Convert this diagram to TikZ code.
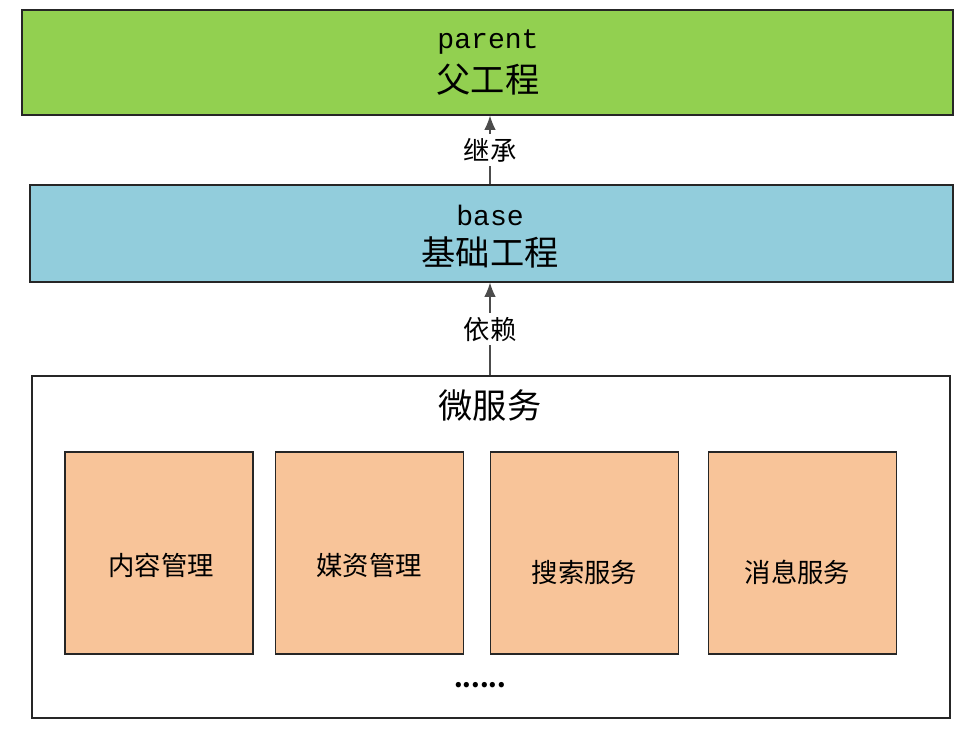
\documentclass[tikz,border=0pt]{standalone}
\usepackage{fontspec}
\setmainfont{Noto Sans CJK SC}
\setmonofont{Liberation Mono}
\newfontfamily\cjk{Noto Sans CJK SC}
\usetikzlibrary{shapes,arrows.meta,positioning,calc}

\definecolor{parentgreen}{HTML}{92D050}
\definecolor{baseblue}{HTML}{92CDDC}
\definecolor{svcorange}{HTML}{F8C499}

\tikzset{
    layer/.style={draw=black!85, line width=0.8pt, inner sep=0pt},
    svc/.style={draw=black!85, line width=0.7pt, fill=svcorange, inner sep=0pt,
        minimum width=3.76cm, minimum height=4.04cm},
    svctext/.style={font=\cjk\fontsize{15}{18}\selectfont},
    layertitle/.style={font=\ttfamily\fontsize{16}{18}\selectfont},
    layername/.style={font=\cjk\fontsize{19.5}{22}\selectfont},
    dep/.style={-{Latex[length=8pt,width=6.5pt]}, draw=black!70, line width=0.6pt},
    deplabel/.style={fill=white, inner sep=2pt, font=\cjk\fontsize{15}{17}\selectfont}
}

\begin{document}
\begin{tikzpicture}[x=0.02cm,y=-0.02cm]
        \useasboundingbox (0,0) rectangle (962,730);
        % three layers
        \node[layer, fill=parentgreen, minimum width=18.62cm, minimum height=2.1cm] (parent) at (487.5,62.5) {};
        \node[layertitle] (parenttitle) at (488,42) {parent};
        \node[layername] (parentname) at (488,80) {父工程};
        \node[layer, fill=baseblue, minimum width=18.46cm, minimum height=1.94cm] (base) at (491.5,233.5) {};
        \node[layertitle] (basetitle) at (490,215) {base};
        \node[layername] (basename) at (490,252) {基础工程};
        \node[layer, fill=white, line width=0.7pt, minimum width=18.36cm, minimum height=6.84cm] (ms) at (491,547) {};
        \node[layername] (mstitle) at (490,405) {微服务};
        % the services
        \node[svc] (cms) at (159,553) {};
        \node[svc, right=0.42cm of cms] (media) {};
        \node[svc, right=0.52cm of media] (search) {};
        \node[svc, right=0.58cm of search] (msg) {};
        \node[svctext] (cmstext) at ($(cms)+(2,12)$) {内容管理};
        \node[svctext] (mediatext) at ($(media)+(0,12)$) {媒资管理};
        \node[svctext] (searchtext) at ($(search)+(0,19)$) {搜索服务};
        \node[svctext] (msgtext) at ($(msg)+(-5,19)$) {消息服务};
        \node[font=\fontsize{14}{16}\selectfont] (more) at (480,685) {\textbf{......}};
        % relations
        \draw[dep] (base.north -| 490,0) -- node[deplabel] (inherit) {继承} (parent.south -| 490,0);
        \draw[dep] (ms.north -| 490,0) -- node[deplabel] (depend) {依赖} (base.south -| 490,0);
\end{tikzpicture}
\end{document}
